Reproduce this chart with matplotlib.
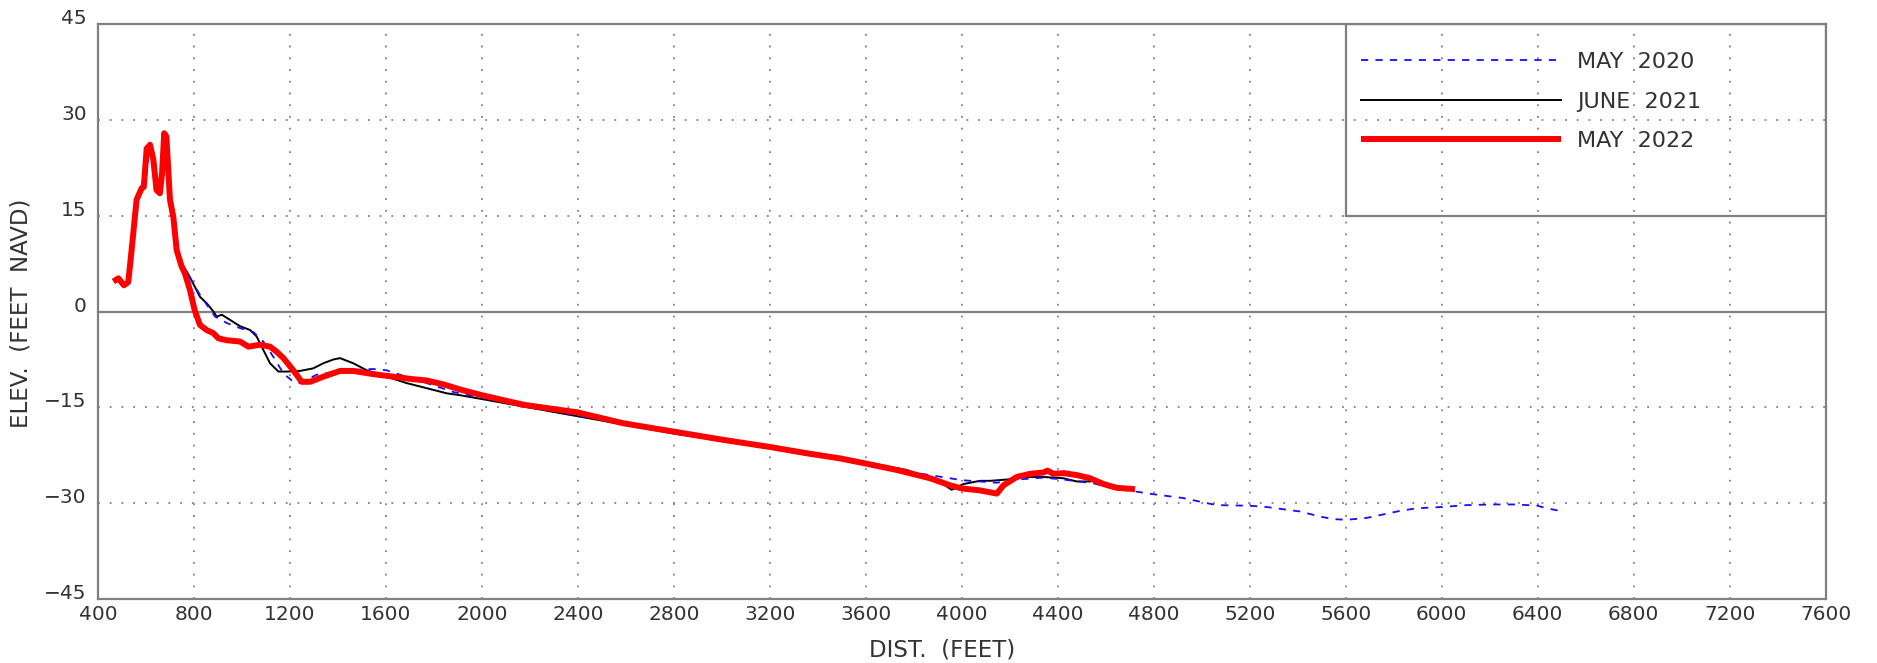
import matplotlib
matplotlib.use('Agg')
import matplotlib.pyplot as plt
from matplotlib.patches import Rectangle

# survey profiles, distance (ft) vs elevation (ft NAVD)
may2020_x = [600, 617, 631, 644, 658, 667, 676, 685, 700, 714, 728, 749, 776, 825, 888, 937, 992,
             1047, 1089, 1131, 1173, 1214, 1242, 1311, 1422, 1547, 1603, 1659, 1770, 1881, 2000,
             2400, 2800, 3200, 3451, 3600, 3799, 4001, 4146, 4229, 4340, 4424, 4549, 4632, 4729,
             4799, 4924, 5022, 5063, 5200, 5271, 5410, 5494, 5549, 5605, 5688, 5827, 5896, 6000,
             6104, 6215, 6312, 6400, 6437, 6493]
may2020_y = [21, 26.4, 23.5, 19.2, 18.6, 21.5, 27.5, 27.2, 16, 14.5, 9.8, 7.5, 5.7, 2.6, -0.8, -1.8,
             -2.6, -3.2, -4.7, -7.1, -9.7, -11.0, -11.2, -9.9, -9.2, -9.0, -9.2, -9.9, -11.2, -12.6,
             -13.5, -16.3, -19.0, -21.3, -22.7, -23.7, -25.2, -26.4, -26.8, -26.3, -26.0, -26.3,
             -26.9, -27.7, -28.2, -28.6, -29.2, -30.0, -30.3, -30.4, -30.6, -31.3, -32.1, -32.5,
             -32.6, -32.3, -31.2, -30.8, -30.6, -30.3, -30.2, -30.2, -30.4, -30.8, -31.2]

june2021_x = [745, 783, 825, 853, 881, 895, 916, 950, 992, 1034, 1061, 1089, 1117, 1152, 1186, 1242,
              1297, 1339, 1382, 1409, 1464, 1520, 1603, 1686, 1770, 1853, 1909, 2000, 2400, 2800,
              3200, 3451, 3600, 3770, 3868, 3930, 3958, 3979, 4007, 4076, 4118, 4188, 4257, 4340,
              4424, 4479, 4535]
june2021_y = [7.8, 5.4, 2.3, 1.3, 0.0, -0.8, -0.5, -1.3, -2.3, -2.9, -3.9, -6.0, -8.1, -9.4, -9.4,
              -9.3, -8.9, -8.1, -7.5, -7.3, -8.1, -9.2, -10.2, -11.2, -12.0, -12.8, -13.1, -13.7,
              -16.4, -19.1, -21.4, -22.8, -23.6, -24.8, -26.1, -27.2, -27.9, -27.5, -27.0, -26.5,
              -26.5, -26.3, -25.9, -25.9, -26.1, -26.6, -26.6]

may2022_x = [464, 485, 508, 526, 533, 547, 561, 582, 591, 603, 617, 631, 644, 658, 667, 676, 685,
             700, 714, 728, 749, 762, 783, 803, 825, 853, 881, 902, 937, 992, 1027, 1075, 1117,
             1145, 1173, 1214, 1249, 1284, 1339, 1409, 1464, 1547, 1631, 1714, 1770, 1839, 1909,
             2000, 2174, 2400, 2590, 2800, 3008, 3200, 3356, 3494, 3600, 3729, 3868, 3951, 4001,
             4076, 4146, 4174, 4229, 4285, 4340, 4357, 4382, 4424, 4479, 4535, 4590, 4646, 4722]
may2022_y = [4.7, 5.2, 4.1, 4.6, 7.0, 12.2, 17.5, 19.3, 19.5, 25.5, 26.1, 23.7, 19.0, 18.5, 21.6,
             27.9, 27.4, 17.5, 14.8, 9.6, 7.0, 6.0, 3.4, 0.2, -2.1, -2.9, -3.4, -4.2, -4.5, -4.7,
             -5.5, -5.2, -5.5, -6.3, -7.3, -9.2, -11.0, -11.0, -10.2, -9.3, -9.3, -9.8, -10.2,
             -10.6, -10.8, -11.4, -12.2, -13.1, -14.6, -15.8, -17.5, -18.8, -20.1, -21.2, -22.2,
             -23.0, -23.8, -24.8, -26.1, -27.2, -27.7, -28.0, -28.5, -27.2, -25.9, -25.4, -25.2,
             -24.9, -25.4, -25.3, -25.6, -26.1, -27.0, -27.6, -27.8]

labels = ['MAY  2020', 'JUNE  2021', 'MAY  2022']
xticks = list(range(400, 7601, 400))
yticks = [-45, -30, -15, 0, 15, 30, 45]

grey = '#808080'
txt = '#333333'

fig = plt.figure(figsize=(18.77, 6.63), dpi=100)
ax = fig.add_axes([0.0522, 0.0965, 0.9204, 0.8673])

l1, = ax.plot(may2020_x, may2020_y, color='#1010ff', lw=1.3, dashes=(4, 4), zorder=3)
l2, = ax.plot(june2021_x, june2021_y, color='black', lw=1.4, zorder=2)
l3, = ax.plot(may2022_x, may2022_y, color='#ff0000', lw=4.3, zorder=4, solid_capstyle='butt')

ax.set_xlim(400, 7600)
ax.set_ylim(-45, 45)
ax.set_xticks(xticks)
ax.set_yticks(yticks)
ax.set_xticklabels([str(v) for v in xticks])
ax.set_yticklabels([str(v).replace('-', '\u2212') for v in yticks])

for v in xticks[1:-1]:
    ax.axvline(v, color=grey, lw=1.3, dashes=(1, 5.5), zorder=1)
for v in [30, 15, -15, -30]:
    ax.axhline(v, color=grey, lw=1.3, dashes=(1, 5.5), zorder=1)
ax.axhline(0, color=grey, lw=1.6, zorder=1)

for s in ax.spines.values():
    s.set_color(grey)
    s.set_linewidth(1.6)

ax.tick_params(length=0, labelsize=14.5, labelcolor=txt)
ax.tick_params(axis='y', pad=8)
ax.tick_params(axis='x', pad=4)
for t in ax.get_yticklabels():
    t.set_va('baseline')

ax.set_xlabel('DIST.  (FEET)', fontsize=16.5, color=txt)
ax.set_ylabel('ELEV.  (FEET  NAVD)', fontsize=16.5, color=txt)
ax.xaxis.set_label_coords(0.4886, -0.068)
ax.yaxis.set_label_coords(-0.038, 0.497)

# legend box
ax.add_patch(Rectangle((5600, 15), 2000, 30, fill=False, edgecolor=grey, lw=1.6, zorder=5))
leg = ax.legend([l1, l2, l3], labels, loc='upper left', bbox_to_anchor=(0.7311, 0.951),
                frameon=False, borderpad=0, borderaxespad=0, handlelength=9.0,
                handletextpad=0.72, labelspacing=0.87, fontsize=16)
for t in leg.get_texts():
    t.set_color(txt)

fig.savefig('out.png', dpi=100)
